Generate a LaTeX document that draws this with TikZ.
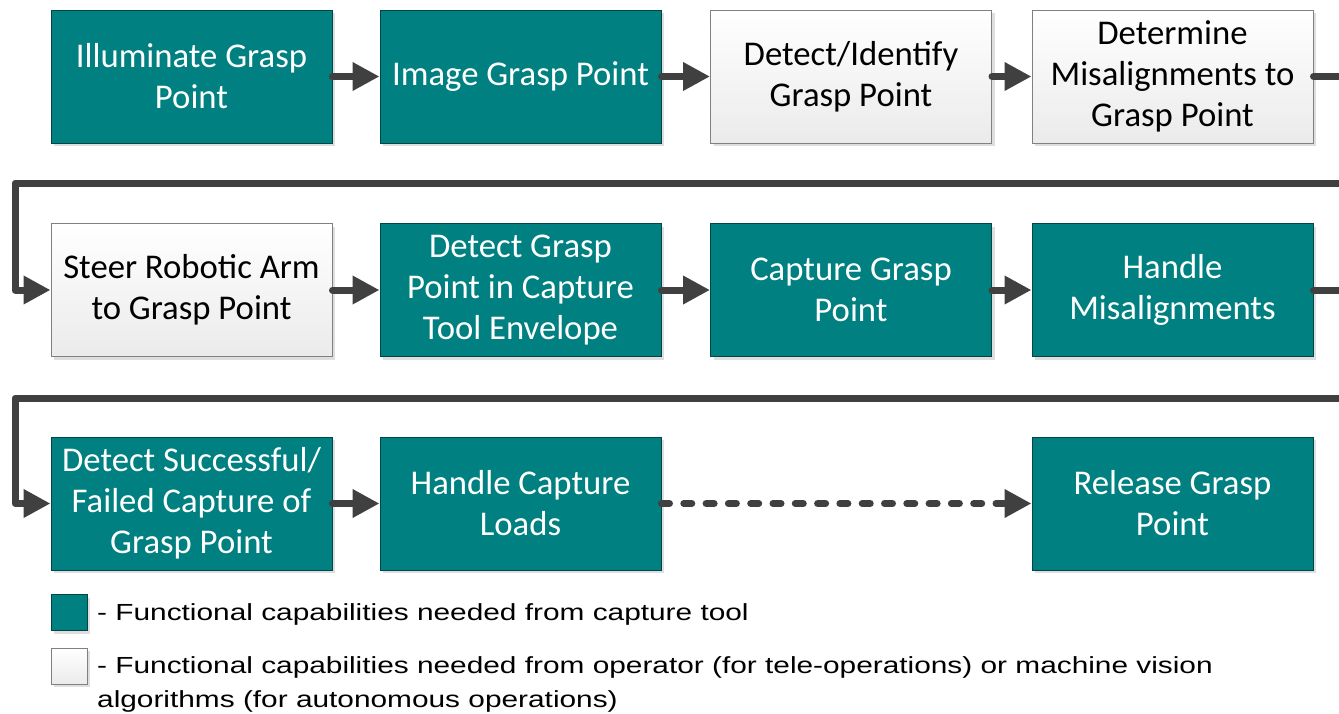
\documentclass[tikz,border=0pt]{standalone}
\usepackage{fontspec}
\setmainfont{Carlito}
\newfontfamily\legfont[FakeStretch=1.28]{Liberation Sans}
\usetikzlibrary{arrows.meta,shadows}
\definecolor{tealc}{HTML}{008080}
\definecolor{lineg}{HTML}{404040}
\begin{document}
\begin{tikzpicture}[x=1pt,y=-1pt,
 shadowed/.style={drop shadow={shadow xshift=3pt,shadow yshift=-3pt,fill=black!13,opacity=1}},
 box/.style={shadowed,minimum width=281pt,minimum height=133pt,inner sep=0pt,align=center,
   font=\fontsize{34.7}{41}\selectfont,line width=1pt},
 tbox/.style={box,fill=tealc,draw=tealc!55!black,text=white},
 gbox/.style={box,top color=white,bottom color=black!8,draw=black!50,text=black},
 conn/.style={draw=lineg,line width=7pt,line cap=round,line join=round,-{Triangle[length=27pt,width=27pt]}},
 legbox/.style={shadowed,minimum size=36pt,inner sep=0pt,line width=1pt},
 legtext/.style={anchor=base west,inner sep=0pt,font=\legfont\fontsize{23.3}{34}\selectfont,text=black},
]
\useasboundingbox (0,0) rectangle (1339,713);
\clip (0,0) rectangle (1339,713);

% row 1
\node[tbox] (b1) at (191.5,76.5) {Illuminate Grasp\\Point};
\node[tbox] (b2) at (520.5,76.5) {Image Grasp Point};
\node[gbox] (b3) at (851,76.5) {Detect/Identify\\Grasp Point};
\node[gbox] (b4) at (1172.5,76.5) {Determine\\Misalignments to\\Grasp Point};
% row 2
\node[gbox] (b5) at (191.5,290) {Steer Robotic Arm\\to Grasp Point};
\node[tbox] (b6) at (520.5,290) {Detect Grasp\\Point in Capture\\Tool Envelope};
\node[tbox] (b7) at (851,290) {Capture Grasp\\Point};
\node[tbox] (b8) at (1172.5,290) {Handle\\Misalignments};
% row 3
\node[tbox] (b9) at (191.5,503.5) {Detect Successful/\\Failed Capture of\\Grasp Point};
\node[tbox] (b10) at (520.5,503.5) {Handle Capture\\Loads};
\node[tbox] (b11) at (1172.5,503.5) {Release Grasp\\Point};

% wrap coordinates
\coordinate (r1) at (1365,76.5);
\coordinate (r1b) at (1365,183);
\coordinate (l1) at (15,183);
\coordinate (r2) at (1365,290);
\coordinate (r2b) at (1365,398);
\coordinate (l2) at (15,398);

% connectors
\draw[conn] (b1.east) -- (b2.west);
\draw[conn] (b2.east) -- (b3.west);
\draw[conn] (b3.east) -- (b4.west);
\draw[conn] (b4.east) -- (r1) -- (r1b) -- (l1) |- (b5.west);
\draw[conn] (b5.east) -- (b6.west);
\draw[conn] (b6.east) -- (b7.west);
\draw[conn] (b7.east) -- (b8.west);
\draw[conn] (b8.east) -- (r2) -- (r2b) -- (l2) |- (b9.west);
\draw[conn] (b9.east) -- (b10.west);
\draw[conn,dash pattern=on 8pt off 14.3pt] (b10.east) -- (b11.west);

% legend
\node[legbox,fill=tealc,draw=tealc!55!black] (lg1) at (69,612.5) {};
\node[legbox,top color=white,bottom color=black!8,draw=black!50] (lg2) at (69,666) {};
\node[legtext] (lt1) at (97,620.5) {- Functional capabilities needed from capture tool};
\node[legtext] (lt2) at (97,673) {- Functional capabilities needed from operator (for tele-operations) or machine vision};
\node[legtext] (lt3) at (97,707) {algorithms (for autonomous operations)};
\end{tikzpicture}
\end{document}
